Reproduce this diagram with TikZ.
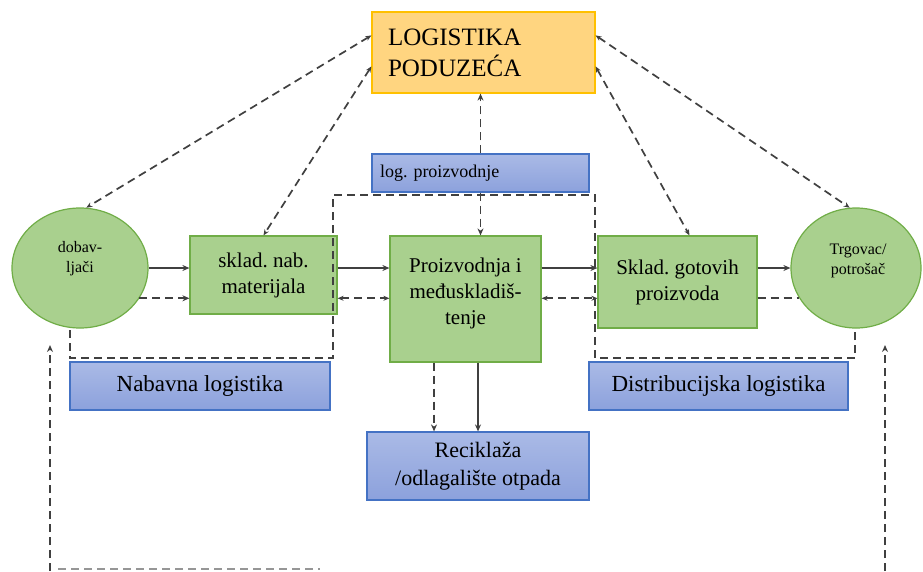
\documentclass[tikz,border=0pt]{standalone}
\usepackage{fontspec}
\setmainfont{Liberation Serif}
\usetikzlibrary{arrows.meta,shapes.geometric}
\definecolor{grnfill}{RGB}{169,208,142}
\definecolor{grnline}{RGB}{112,173,71}
\definecolor{blutop}{RGB}{170,186,230}
\definecolor{blubot}{RGB}{140,161,220}
\definecolor{bluline}{RGB}{68,114,196}
\definecolor{orgfill}{RGB}{255,213,128}
\definecolor{orgline}{RGB}{255,192,0}
\definecolor{linegray}{RGB}{64,64,64}
\frenchspacing

\begin{document}
\begin{tikzpicture}[x=1pt,y=-1pt,
  every node/.style={inner sep=0pt},
  gbox/.style={rectangle, draw=grnline, fill=grnfill, line width=1.2pt, align=center,
    font=\fontsize{21}{26}\selectfont},
  gell/.style={ellipse, draw=grnline, fill=grnfill, line width=1.2pt},
  bbox/.style={rectangle, draw=bluline, top color=blutop, bottom color=blubot, line width=1.2pt},
  conn/.style={draw=linegray, line width=1.7pt, -{Stealth[length=7pt,width=6pt]}},
  dconn/.style={conn, dash pattern=on 8pt off 5pt},
  both/.style={{Stealth[length=6pt,width=5pt]}-{Stealth[length=6pt,width=5pt]}},
  frame/.style={draw=linegray, line width=1.7pt, dash pattern=on 8pt off 5pt}]
\useasboundingbox (0,0) rectangle (923,571);

\node[rectangle, draw=orgline, fill=orgfill, line width=1.2pt, minimum width=223pt,
  minimum height=81pt, text width=191pt, align=left, font=\fontsize{25}{31}\selectfont]
  (logp) at (483.5,52.5) {LOGISTIKA\\PODUZEĆA};
\node[bbox, minimum width=217pt, minimum height=38pt, text width=201pt, align=left,
  font=\fontsize{18}{22}\selectfont] (logpro) at (480.5,173) {log. proizvodnje};

\node[gell, minimum width=136pt, minimum height=120pt] (dob) at (80,268) {};
\node[align=center, font=\fontsize{16}{20}\selectfont] (dobtxt) at (80,259) {dobav-\\ljači};
\node[gell, minimum width=130pt, minimum height=120pt] (trg) at (856,268) {};
\node[align=center, font=\fontsize{16}{20}\selectfont] (trgtxt) at (858,261) {Trgovac/\\potrošač};

\node[gbox, minimum width=147pt, minimum height=78pt] (skn) at (263.5,275) {sklad. nab.\\materijala};
\node[gbox, minimum width=151pt, minimum height=126pt] (pro) at (465.5,299) {Proizvodnja i\\međuskladiš-\\tenje\\[-10pt]};
\node[gbox, minimum width=159pt, minimum height=92pt] (skg) at (677.5,282) {Sklad. gotovih\\proizvoda};

\node[bbox, minimum width=260pt, minimum height=48pt, font=\fontsize{23}{28}\selectfont]
  (nab) at (200,386) {Nabavna logistika};
\node[bbox, minimum width=259pt, minimum height=48pt, font=\fontsize{23}{28}\selectfont]
  (dis) at (718.5,386) {Distribucijska logistika};
\node[bbox, minimum width=222pt, minimum height=68pt, align=center, font=\fontsize{22}{28}\selectfont]
  (rec) at (478,466) {Reciklaža\\/odlagalište otpada};

% dashed frames round the logistics areas
\draw[frame] (70,330) -- (70,358) -- (333,358) -- (333,195) -- (595,195) -- (595,358)
  -- (855,358) -- (855,330);

% flows
\draw[conn] (dob.east) -- (skn.west |- dob.east);
\draw[dconn] (dob.-27) -- (skn.west |- dob.-27);
\draw[conn] (skn.east |- dob.east) -- (pro.west |- dob.east);
\draw[dconn, both] (skn.east |- dob.-27) -- (pro.west |- dob.-27);
\draw[conn] (pro.east |- dob.east) -- (skg.west |- dob.east);
\draw[dconn, both] (pro.east |- dob.-27) -- (skg.west |- dob.-27);
\draw[conn] (skg.east |- trg.west) -- (trg.west);
\draw[frame] (skg.east |- trg.208) -- (trg.208);
\draw[conn] (pro.south -| rec.north) -- (rec.north);
\draw[dconn] ([xshift=-44pt]rec.north |- pro.south) -- ([xshift=-44pt]rec.north);

% information links
\draw[dconn] (logpro.south) -- (logpro.south |- pro.north);
\draw[dconn] (logpro.north) -- (logpro.north |- logp.south);
\draw[dconn, both] ([yshift=-24pt]logp.north west) -- (dob.84);
\draw[dconn, both] ([yshift=-55pt]logp.north west) -- (skn.north);
\draw[dconn, both] ([yshift=-24pt]logp.north east) -- (trg.96);
\draw[dconn, both] ([yshift=-55pt]logp.north east) -- ([xshift=12pt]skg.north);

% return loop
\coordinate (lbot) at (50,571);
\coordinate (ltop) at (50,345);
\coordinate (rbot) at (885,571);
\coordinate (rtop) at (885,345);
\coordinate (loopa) at (58,569);
\coordinate (loopb) at (320,569);
\draw[dconn] (lbot) -- (ltop);
\draw[dconn] (rbot) -- (rtop);
\draw[frame, draw=linegray!55] (loopa) -- (loopb);
\end{tikzpicture}
\end{document}
